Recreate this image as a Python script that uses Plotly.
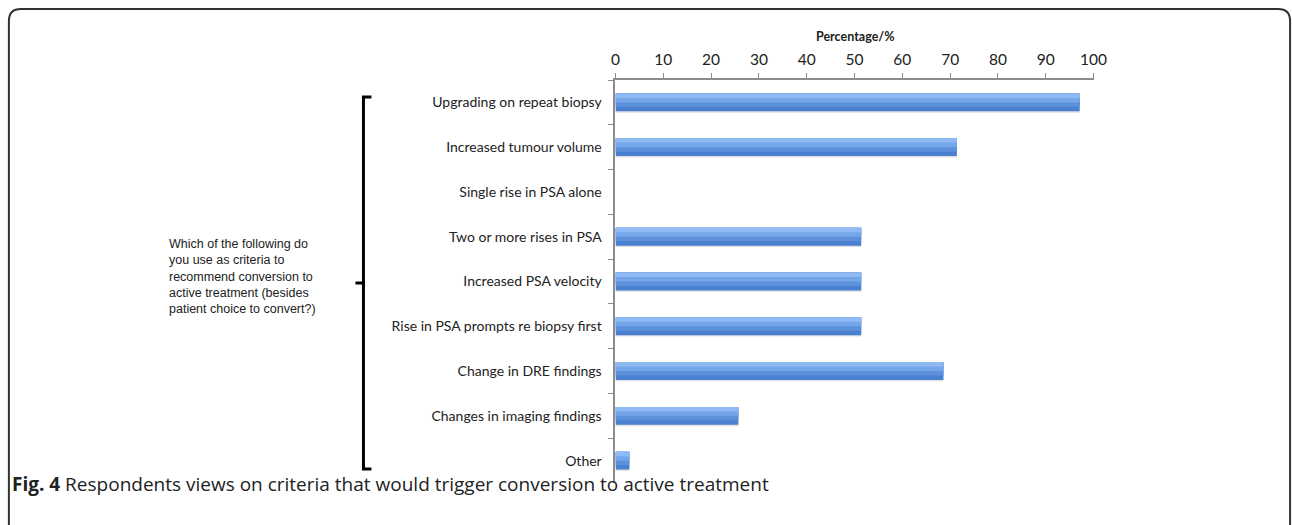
import plotly.graph_objects as go

# ---- data ----
categories = [
    "Upgrading on repeat biopsy",
    "Increased tumour volume",
    "Single rise in PSA alone",
    "Two or more rises in PSA",
    "Increased PSA velocity",
    "Rise in PSA prompts re biopsy first",
    "Change in DRE findings",
    "Changes in imaging findings",
    "Other",
]
percentages = [97.1, 71.4, 0.0, 51.4, 51.4, 51.4, 68.6, 25.7, 2.9]
x_ticks = [0, 10, 20, 30, 40, 50, 60, 70, 80, 90, 100]
axis_title = "Percentage/%"
question_lines = [
    "Which of the following do",
    "you use as criteria to",
    "recommend conversion to",
    "active treatment (besides",
    "patient choice to convert?)",
]
caption_bold = "Fig. 4"
caption_text = "Respondents views on criteria that would trigger conversion to active treatment"

# ---- layout helpers (pixel -> paper) ----
W, H = 1292, 525
def px(x):
    # compensate the small horizontal shift/scale seen in the rendered page
    return ((x - 4.6) / 0.9867) / W
def py(y):
    return 1 - y / H

fig = go.Figure()

# shadow under each bar
fig.add_trace(go.Bar(
    y=categories, x=percentages, orientation="h",
    width=0.40, offset=-0.17,
    marker=dict(color="rgba(60,60,60,0.16)", line=dict(width=0)),
    hoverinfo="skip", showlegend=False,
))
# overlapping layers: darker base, lighter upper bands (no seams)
layers = [(0.40, "#4a80d0"), (0.30, "#5e91dc"), (0.20, "#76a6ea"), (0.10, "#8fbaf4")]
for w, c in layers:
    fig.add_trace(go.Bar(
        y=categories, x=percentages, orientation="h",
        width=w, offset=-0.20,
        marker=dict(color=c, line=dict(width=0)),
        showlegend=False,
    ))

fig.update_layout(
    width=W, height=H,
    margin=dict(l=0, r=0, t=0, b=0),
    paper_bgcolor="white", plot_bgcolor="white",
    barmode="overlay",
    font=dict(family="Lato, Open Sans, sans-serif", color="#222"),
    xaxis=dict(
        domain=[px(616), px(1094)],
        range=[0, 100], side="top",
        tickvals=x_ticks, ticktext=[str(v) for v in x_ticks],
        showgrid=False, zeroline=False,
        showline=True, linecolor="#8c8c8c", linewidth=2,
        ticks="outside", ticklen=5, tickcolor="#8c8c8c", tickwidth=1,
        tickfont=dict(size=15.5, family="Lato", color="#222"),
        ticklabelstandoff=2,
    ),
    yaxis=dict(
        domain=[py(483), py(80)],
        autorange="reversed",
        type="category",
        showgrid=False, zeroline=False,
        showline=True, linecolor="#8c8c8c", linewidth=2,
        ticks="outside", ticklen=5, tickcolor="#8c8c8c", tickwidth=1,
        tickson="boundaries",
        tickfont=dict(size=14, family="Lato", color="#222"),
        ticklabelstandoff=9,
    ),
)

# axis title
fig.add_annotation(
    text="<b>" + axis_title + "</b>", xref="paper", yref="paper",
    x=px(855), y=py(36), xanchor="center", yanchor="middle",
    showarrow=False, font=dict(size=12.5, family="Lato", color="#222"),
)

# question text
fig.add_annotation(
    text="<br>".join(question_lines), xref="paper", yref="paper",
    x=px(168), y=py(276), xanchor="left", yanchor="middle", align="left",
    showarrow=False, font=dict(size=12.5, family="Liberation Sans", color="#222"),
)

# caption
fig.add_annotation(
    text="<b>" + caption_bold + "</b> " + caption_text, xref="paper", yref="paper",
    x=px(11), y=py(484), xanchor="left", yanchor="middle", align="left",
    showarrow=False, font=dict(size=19, family="Open Sans", color="#222"),
)

# bracket
bx, btop, bbot, bmid = 364, 97, 469, 283
bracket = (
    f"M {px(bx+8)},{py(btop)} L {px(bx)},{py(btop)} L {px(bx)},{py(bbot)} L {px(bx+8)},{py(bbot)} "
    f"M {px(bx-8)},{py(bmid)} L {px(bx)},{py(bmid)}"
)
fig.add_shape(type="path", xref="paper", yref="paper", path=bracket,
              line=dict(color="black", width=3))

# rounded frame
r = 12
fx0, fx1, fy0 = 9.5, 1290.5, 9
frame = (
    f"M {px(fx0)},{py(H)} L {px(fx0)},{py(fy0 + r)} "
    f"Q {px(fx0)},{py(fy0)} {px(fx0 + r)},{py(fy0)} "
    f"L {px(fx1 - r)},{py(fy0)} "
    f"Q {px(fx1)},{py(fy0)} {px(fx1)},{py(fy0 + r)} "
    f"L {px(fx1)},{py(H)}"
)
fig.add_shape(type="path", xref="paper", yref="paper", path=frame,
              line=dict(color="#333", width=2))

post = (
    "document.body.style.margin='0';"
    "document.body.style.overflow='hidden';"
)

fig.write_html(
    "out.html",
    config={"displayModeBar": False},
    post_script=post,
)
